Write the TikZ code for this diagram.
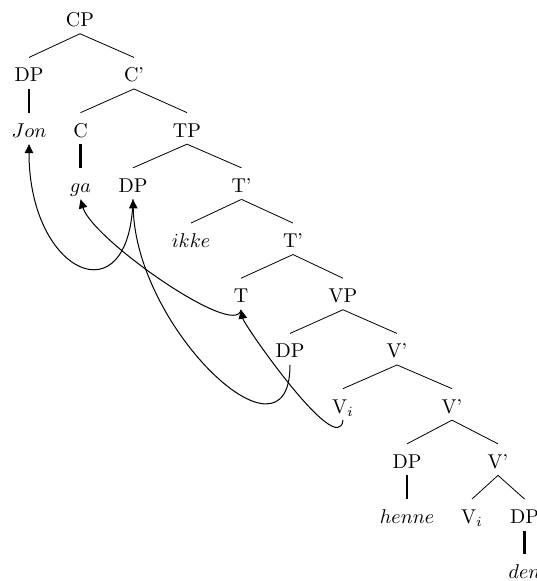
\documentclass[tikz,border=0pt]{standalone}
\usetikzlibrary{arrows.meta}
\begin{document}
\begin{tikzpicture}[x=0.5pt,y=-0.5pt,
  lab/.style={anchor=base,text height=8.7pt,text depth=0pt,inner sep=3.33pt,font=\normalsize},
  edge/.style={line width=0.4pt},
  thick edge/.style={line width=1.2pt},
  arr/.style={-{Triangle[length=4.5pt,width=4.2pt]},line width=0.5pt}]
\useasboundingbox (0,0) rectangle (536,581);
% rows
\node[lab] (cp)    at (80,26.7)   {CP};
\node[lab] (dp1)   at (29,81.9)   {DP};
\node[lab] (cbar)  at (134,81.9)  {C'};
\node[lab] (jon)   at (29,137.1)  {$Jon$};
\node[lab] (c)     at (80.5,137.1) {C};
\node[lab] (tp)    at (187,137.1) {TP};
\node[lab] (ga)    at (80.5,192.3) {$ga$};
\node[lab] (dp3)   at (133,192.3) {DP};
\node[lab] (tbar1) at (241.5,192.3) {T'};
\node[lab] (ikke)  at (191,247.5) {$ikke$};
\node[lab] (tbar2) at (293,247.5) {T'};
\node[lab] (t)     at (241,302.7) {T};
\node[lab] (vp)    at (343,302.7) {VP};
\node[lab] (dp6)   at (290,357.9) {DP};
\node[lab] (vbar1) at (397,357.9) {V'};
\node[lab] (vi7)   at (343,413.1) {V$_i$};
\node[lab] (vbar2) at (452,413.1) {V'};
\node[lab] (dp8)   at (407,468.3) {DP};
\node[lab] (vbar3) at (498,468.3) {V'};
\node[lab] (henne) at (407,523.5) {$henne$};
\node[lab] (vi9)   at (472,523.5) {V$_i$};
\node[lab] (dp9)   at (524.5,523.5) {DP};
\node[lab] (den)   at (524.5,578.7) {$den$};
% edges
\draw[edge] (cp.south) -- (dp1.north);
\draw[edge] (cp.south) -- (cbar.north);
\draw[thick edge] (dp1.south) -- (jon.north);
\draw[edge] (cbar.south) -- (c.north);
\draw[edge] (cbar.south) -- (tp.north);
\draw[thick edge] (c.south) -- (ga.north);
\draw[edge] (tp.south) -- (dp3.north);
\draw[edge] (tp.south) -- (tbar1.north);
\draw[edge] (tbar1.south) -- (ikke.north);
\draw[edge] (tbar1.south) -- (tbar2.north);
\draw[edge] (tbar2.south) -- (t.north);
\draw[edge] (tbar2.south) -- (vp.north);
\draw[edge] (vp.south) -- (dp6.north);
\draw[edge] (vp.south) -- (vbar1.north);
\draw[edge] (vbar1.south) -- (vi7.north);
\draw[edge] (vbar1.south) -- (vbar2.north);
\draw[edge] (vbar2.south) -- (dp8.north);
\draw[edge] (vbar2.south) -- (vbar3.north);
\draw[thick edge] (dp8.south) -- (henne.north);
\draw[edge] (vbar3.south) -- (vi9.north);
\draw[edge] (vbar3.south) -- (dp9.north);
\draw[thick edge] (dp9.south) -- (den.north);
% movement arrows
\draw[arr] (dp3.south) .. controls +(-3,120) and +(0,130) .. (jon.south);
\draw[arr] (t.south) .. controls +(-5,30) and +(12,40) .. (ga.south);
\draw[arr] (vi7.south) .. controls +(-5,40) and +(3,15) .. (t.south);
\draw[arr] (dp6.south) .. controls +(0,110) and +(3,130) .. (dp3.south);
\end{tikzpicture}
\end{document}
